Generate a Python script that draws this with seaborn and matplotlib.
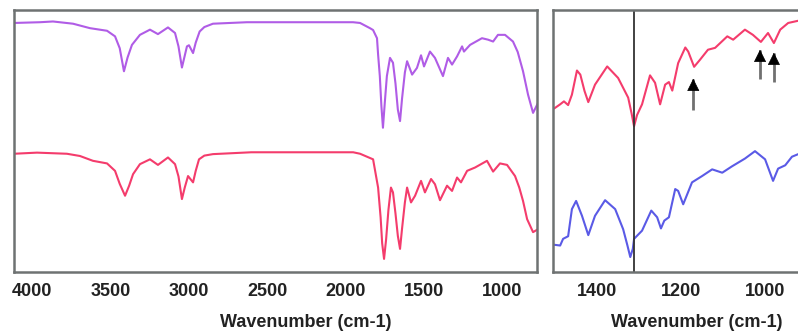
import numpy as np
import pandas as pd
import matplotlib
matplotlib.use("Agg")
import matplotlib.pyplot as plt
import seaborn as sns

# ---- full-range spectra (left panel) ----
wn_top = [4115, 3949, 3866, 3738, 3630, 3521, 3470, 3440, 3413, 3390, 3362, 3311,
          3247, 3196, 3132, 3087, 3065, 3043, 3025, 3011, 2998, 2972, 2955, 2930,
          2900, 2845, 2628, 2417, 2206, 1951, 1906, 1843, 1823, 1798, 1791, 1780,
          1770, 1760, 1748, 1735, 1715, 1696, 1680, 1665, 1651, 1638, 1620, 1606,
          1574, 1543, 1517, 1498, 1460, 1428, 1377, 1345, 1319, 1287, 1255, 1243,
          1204, 1128, 1089, 1057, 1026, 981, 930, 900, 866, 834, 802, 770]
y_top = [6.43, 6.45, 6.47, 6.41, 6.29, 6.22, 6.07, 5.75, 5.13, 5.50, 5.84, 6.11,
         6.25, 6.13, 6.31, 6.16, 5.80, 5.23, 5.55, 5.80, 5.83, 5.62, 5.90, 6.20,
         6.32, 6.41, 6.45, 6.45, 6.45, 6.45, 6.43, 6.29, 6.24, 6.02, 5.58, 5.00,
         4.20, 3.61, 4.30, 5.00, 5.49, 5.36, 4.80, 4.10, 3.79, 4.40, 5.10, 5.40,
         5.04, 5.22, 5.56, 5.26, 5.66, 5.49, 5.00, 5.49, 5.31, 5.53, 5.80, 5.66,
         5.84, 6.02, 5.98, 5.93, 6.11, 6.11, 5.93, 5.65, 5.13, 4.50, 4.01, 4.28]

wn_bot = [4115, 3968, 3777, 3694, 3611, 3521, 3470, 3440, 3406, 3380, 3355, 3311,
          3247, 3196, 3132, 3087, 3065, 3043, 3025, 3004, 2972, 2955, 2934, 2900,
          2845, 2600, 2400, 2200, 1950, 1906, 1823, 1791, 1775, 1765, 1753, 1740,
          1725, 1709, 1696, 1680, 1665, 1651, 1638, 1620, 1606, 1581, 1555, 1517,
          1492, 1453, 1428, 1396, 1351, 1319, 1287, 1262, 1223, 1172, 1096, 1057,
          1013, 968, 917, 890, 866, 840, 802, 770]
y_bot = [2.91, 2.94, 2.91, 2.85, 2.72, 2.65, 2.45, 2.10, 1.78, 2.05, 2.36, 2.63,
         2.76, 2.61, 2.81, 2.63, 2.30, 1.69, 2.00, 2.31, 2.14, 2.45, 2.76, 2.86,
         2.90, 2.95, 2.95, 2.95, 2.95, 2.91, 2.76, 2.00, 1.20, 0.50, 0.08, 0.60,
         1.40, 2.00, 1.87, 1.30, 0.70, 0.35, 0.90, 1.60, 2.00, 1.60, 1.78, 2.18,
         1.87, 2.23, 2.09, 1.66, 2.05, 1.91, 2.27, 2.14, 2.45, 2.54, 2.72, 2.43,
         2.65, 2.61, 2.31, 2.00, 1.64, 1.15, 0.80, 0.88]

# ---- zoomed fingerprint region (right panel) ----
wn_red = [1502, 1488, 1479, 1469, 1460, 1448, 1440, 1430, 1421, 1405, 1376, 1350,
          1326, 1318, 1312, 1305, 1293, 1274, 1262, 1250, 1238, 1229, 1221, 1207,
          1190, 1183, 1169, 1155, 1136, 1119, 1090, 1076, 1048, 1029, 1010, 993,
          979, 964, 945, 921]
y_red = [4.13, 4.24, 4.32, 4.22, 4.50, 5.15, 5.04, 4.60, 4.30, 4.77, 5.26, 4.95,
         4.42, 4.00, 3.65, 3.95, 4.24, 5.02, 4.82, 4.24, 4.77, 4.84, 4.61, 5.35,
         5.77, 5.66, 5.25, 5.44, 5.71, 5.76, 6.07, 5.98, 6.25, 6.11, 5.92, 6.16,
         5.89, 6.25, 6.43, 6.49]

wn_blue = [1502, 1488, 1481, 1469, 1460, 1450, 1436, 1421, 1405, 1381, 1357, 1338,
           1328, 1321, 1315, 1312, 1293, 1271, 1257, 1248, 1240, 1229, 1214, 1207,
           1195, 1174, 1150, 1126, 1102, 1079, 1048, 1024, 1000, 981, 969, 952,
           936, 921]
y_blue = [0.46, 0.44, 0.62, 0.69, 1.42, 1.64, 1.24, 0.72, 1.24, 1.66, 1.42, 0.88,
          0.45, 0.13, 0.35, 0.62, 0.84, 1.38, 1.20, 0.90, 1.11, 1.20, 1.96, 1.91,
          1.55, 2.14, 2.31, 2.49, 2.40, 2.57, 2.78, 2.98, 2.76, 2.18, 2.51, 2.60,
          2.83, 2.90]

marker_line = 1311
arrow_wn = [1171, 1012, 979]
arrow_tail = [4.10, 4.91, 4.83]
arrow_head = [4.93, 5.71, 5.63]

left_ticks = [4000, 3500, 3000, 2500, 2000, 1500, 1000]
right_ticks = [1400, 1200, 1000]
right_minor = [1450, 1350, 1250, 1150, 1050, 950]

purple = "#b05ce6"
red = "#f43c6c"
blue = "#5a5ae6"
spine_col = "#6e7272"

sns.set_style("white")
plt.rcParams["font.family"] = ["Liberation Sans", "DejaVu Sans"]

fig = plt.figure(figsize=(7.98, 3.32), dpi=100)
ax1 = fig.add_axes([0.0175, 0.181, 0.6554, 0.789])
ax2 = fig.add_axes([0.693, 0.181, 0.361, 0.789])

line_kw = dict(lw=1.5, solid_joinstyle="round", solid_capstyle="round")
sns.lineplot(x=wn_top, y=y_top, ax=ax1, color=purple, **line_kw)
sns.lineplot(x=wn_bot, y=y_bot, ax=ax1, color=red, **line_kw)
sns.lineplot(x=wn_red, y=y_red, ax=ax2, color=red, **line_kw)
sns.lineplot(x=wn_blue, y=y_blue, ax=ax2, color=blue, **line_kw)

ax2.axvline(marker_line, color="#333333", lw=1.3)
# arrows: grey shaft, black head
ax2.vlines(arrow_wn, arrow_tail, arrow_head, color="#707070", lw=2)
for wx, yh in zip(arrow_wn, arrow_head):
    ax2.annotate("", xy=(wx, yh), xytext=(wx, yh - 0.25),
                 arrowprops=dict(arrowstyle="-|>", mutation_scale=20,
                                 fc="black", ec="black", lw=0.5,
                                 shrinkA=0, shrinkB=0))

ax1.set_xlim(4115, 777)
ax2.set_xlim(1505, 819)
for ax in (ax1, ax2):
    ax.set_ylim(-0.27, 6.78)
    for s in ax.spines.values():
        s.set_color(spine_col)
        s.set_linewidth(1.8)
    ax.set_xlabel("Wavenumber (cm-1)", fontsize=13, fontweight="bold", color="#222222")
    ax.tick_params(axis="x", labelsize=13, colors="#222222", pad=8)

ax1.set_xticks(left_ticks)
ax1.set_xticklabels([str(t) for t in left_ticks], fontweight="bold")
ax1.set_yticks(range(7))
ax1.set_yticklabels([])
ax1.tick_params(axis="both", direction="in", length=3, width=1.5, color="#333333")
ax1.xaxis.set_label_coords(0.558, -0.16)

ax2.set_xticks(right_ticks)
ax2.set_xticklabels([str(t) for t in right_ticks], fontweight="bold")
ax2.set_xticks(right_minor, minor=True)
ax2.set_yticks([])
ax2.tick_params(axis="x", which="major", length=0)
ax2.tick_params(axis="x", which="minor", direction="in", length=3, width=1.5, color="#333333")
ax2.xaxis.set_label_coords(0.5, -0.16)

fig.savefig("out.png", dpi=100, facecolor="white")
